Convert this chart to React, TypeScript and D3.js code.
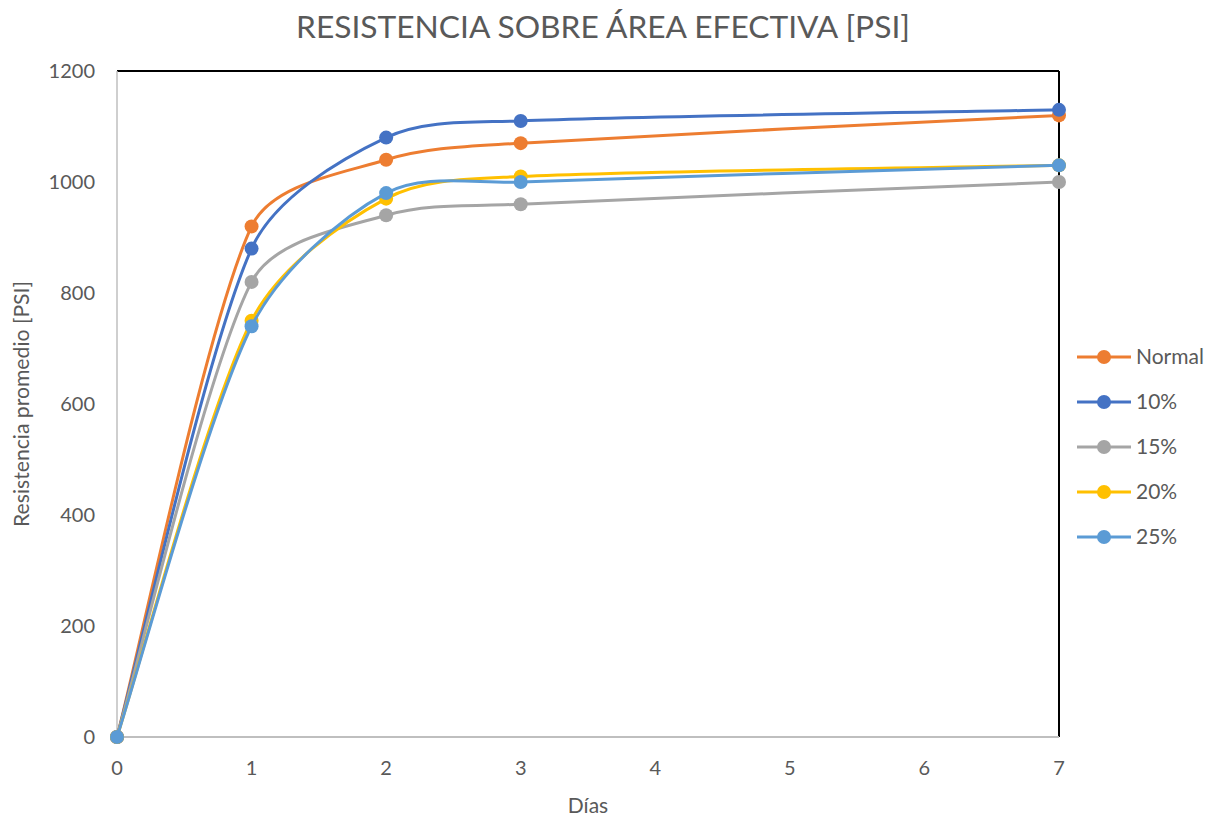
import React from "react";
import * as d3 from "d3";

const days = [0, 1, 2, 3, 7];
const seriesNames = ["Normal", "10%", "15%", "20%", "25%"];
const normalValues = [0, 920, 1040, 1070, 1120];
const p10Values = [0, 880, 1080, 1110, 1130];
const p15Values = [0, 820, 940, 960, 1000];
const p20Values = [0, 750, 970, 1010, 1030];
const p25Values = [0, 740, 980, 1000, 1030];
const seriesColors = ["#ED7D31", "#4472C4", "#A5A5A5", "#FFC000", "#5B9BD5"];
const xTicks = [0, 1, 2, 3, 4, 5, 6, 7];
const yTicks = [0, 200, 400, 600, 800, 1000, 1200];

const W = 1223;
const H = 820;
const FONT = "Lato, 'Open Sans', sans-serif";
const TXT = "#595959";

// Excel-like smoothing: Catmull-Rom tangents (1/6), shortened on short chords
function smoothPath(pts: [number, number][]): string {
  const p = d3.path();
  const n = pts.length;
  const dist = (a: [number, number], b: [number, number]) => Math.hypot(b[0] - a[0], b[1] - a[1]);
  p.moveTo(pts[0][0], pts[0][1]);
  for (let i = 0; i < n - 1; i++) {
    const p0 = pts[Math.max(0, i - 1)];
    const p1 = pts[i];
    const p2 = pts[i + 1];
    const p3 = pts[Math.min(n - 1, i + 2)];
    const d01 = dist(p0, p1);
    const d12 = dist(p1, p2);
    const d23 = dist(p2, p3);
    const s1 = Math.min(1 / 6, d12 / (d01 + d12) / 3);
    const s2 = Math.min(1 / 6, d12 / (d12 + d23) / 3);
    const c1x = p1[0] + (p2[0] - p0[0]) * s1;
    const c1y = p1[1] + (p2[1] - p0[1]) * s1;
    const c2x = p2[0] - (p3[0] - p1[0]) * s2;
    const c2y = p2[1] - (p3[1] - p1[1]) * s2;
    p.bezierCurveTo(c1x, c1y, c2x, c2y, p2[0], p2[1]);
  }
  return p.toString();
}

export default function App() {
  const allValues = [normalValues, p10Values, p15Values, p20Values, p25Values];
  const x = d3.scaleLinear().domain([0, 7]).range([117, 1059]);
  const y = d3.scaleLinear().domain([0, 1200]).range([737, 71]);

  const legendY = d3.scalePoint<string>().domain(seriesNames).range([357, 537]);

  return (
    <svg
      width={W}
      height={H}
      style={{ display: "block", position: "absolute", left: 0, top: 0, background: "#fff" }}
      fontFamily={FONT}
    >
      <rect x={0} y={0} width={W} height={H} fill="#fff" />
      <text x={603} y={38} textAnchor="middle" fontSize={30} fill={TXT} textLength={614} lengthAdjust="spacingAndGlyphs">
        RESISTENCIA SOBRE ÁREA EFECTIVA [PSI]
      </text>

      {/* frame */}
      <line x1={x(0)} x2={x(7)} y1={y(1200)} y2={y(1200)} stroke="#000" strokeWidth={2} />
      <line x1={x(7)} x2={x(7)} y1={y(1200)} y2={y(0)} stroke="#000" strokeWidth={2} />
      <line x1={x(0)} x2={x(0)} y1={y(1200)} y2={y(0)} stroke="#BFBFBF" strokeWidth={1.5} />
      <line x1={x(0)} x2={x(7)} y1={y(0)} y2={y(0)} stroke="#BFBFBF" strokeWidth={2} />

      {yTicks.map((t) => (
        <text key={t} x={95} y={y(t) + 7} textAnchor="end" fontSize={20} fill={TXT}>
          {t}
        </text>
      ))}
      {xTicks.map((t) => (
        <text key={t} x={x(t)} y={775} textAnchor="middle" fontSize={20} fill={TXT}>
          {t}
        </text>
      ))}
      <text x={588} y={813} textAnchor="middle" fontSize={21} fill={TXT}>
        Días
      </text>
      <text
        transform={`translate(29,${y(600)}) rotate(-90)`}
        textAnchor="middle"
        fontSize={21}
        fill={TXT}
        textLength={246}
        lengthAdjust="spacingAndGlyphs"
      >
        Resistencia promedio [PSI]
      </text>

      {allValues.map((vals, si) => {
        const pts = vals.map((v, i) => [x(days[i]), y(v)] as [number, number]);
        return (
          <g key={seriesNames[si]}>
            <path d={smoothPath(pts)} fill="none" stroke={seriesColors[si]} strokeWidth={3} />
            {pts.map((pt, i) => (
              <circle key={i} cx={pt[0]} cy={pt[1]} r={7} fill={seriesColors[si]} />
            ))}
          </g>
        );
      })}

      {seriesNames.map((n, si) => {
        const ly = legendY(n) as number;
        return (
          <g key={n}>
            <line x1={1077} x2={1131} y1={ly} y2={ly} stroke={seriesColors[si]} strokeWidth={3} />
            <circle cx={1104} cy={ly} r={7} fill={seriesColors[si]} />
            <text x={1136} y={ly + 7} fontSize={21} fill={TXT}>
              {n}
            </text>
          </g>
        );
      })}
    </svg>
  );
}
